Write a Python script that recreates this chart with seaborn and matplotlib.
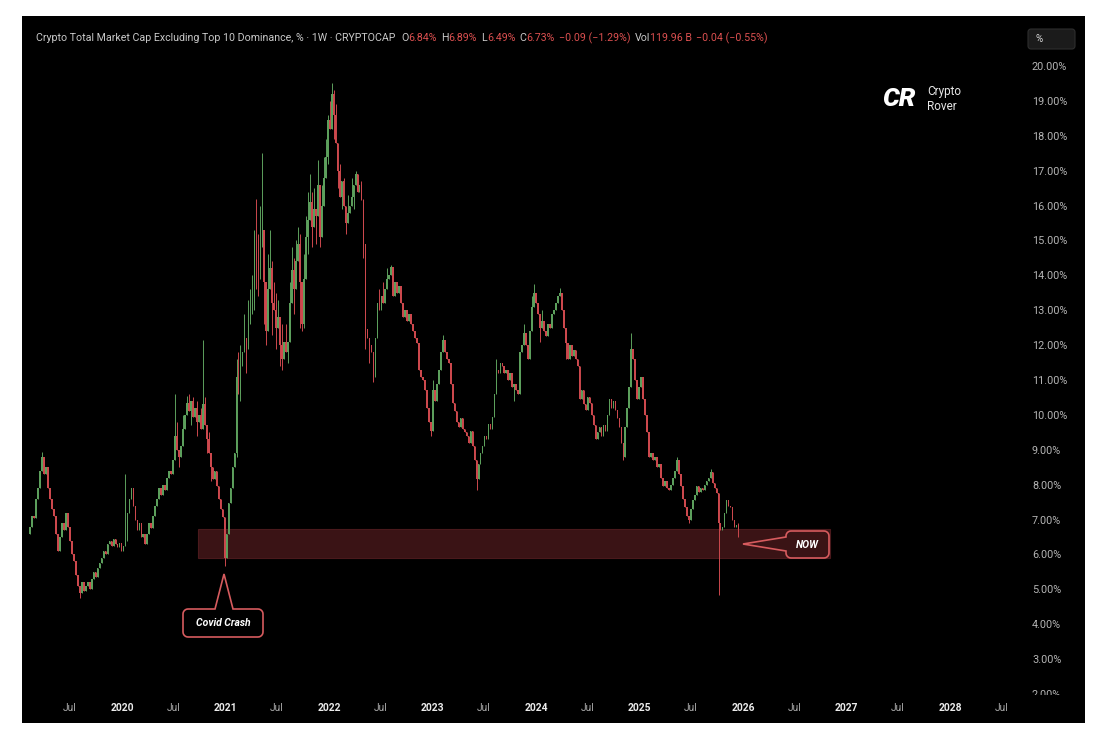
import numpy as np
import pandas as pd
import matplotlib
matplotlib.use("Agg")
import matplotlib.pyplot as plt
import matplotlib.dates as mdates
from matplotlib.patches import Rectangle, Polygon
import seaborn as sns

# weekly closes in %; first candle is the week of 2019-02-11
closes = [
    6.80, 7.10, 7.05, 7.60, 7.90, 8.40, 8.80, 8.30, 8.50, 7.90,
    7.60, 7.30, 7.10, 6.60, 6.10, 6.50, 6.90, 6.70, 7.20, 6.80,
    6.40, 6.00, 5.80, 5.40, 5.10, 4.90, 5.20, 4.95, 5.10, 5.20,
    5.00, 5.30, 5.50, 5.35, 5.60, 5.75, 5.90, 6.10, 6.00, 6.30,
    6.40, 6.25, 6.45, 6.30, 6.20, 6.33, 6.10, 6.25, 6.40, 7.20,
    7.60, 7.90, 7.40, 7.00, 6.70, 6.90, 6.50, 6.60, 6.30, 6.60,
    6.90, 6.75, 7.10, 7.40, 7.60, 7.90, 7.70, 8.00, 7.85, 8.20,
    8.40, 8.30, 8.70, 9.40, 9.00, 8.80, 9.10, 9.60, 10.00, 10.35,
    10.10, 10.40, 9.95, 10.20, 9.80, 10.00, 9.60, 10.30, 9.70, 9.30,
    8.90, 8.50, 8.15, 8.40, 7.95, 7.60, 7.30, 7.07, 5.90, 6.60,
    7.48, 7.90, 8.50, 8.90, 11.10, 10.60, 11.40, 11.80, 12.20, 11.90,
    12.60, 12.90, 13.20, 15.00, 14.40, 14.15, 14.80, 15.30, 13.80, 12.40,
    13.60, 14.20, 13.20, 13.00, 12.50, 12.80, 12.00, 11.60, 12.10, 11.80,
    12.10, 13.20, 14.15, 13.60, 14.40, 14.90, 13.80, 12.60, 13.90, 15.10,
    15.60, 16.10, 15.40, 15.90, 15.70, 16.60, 15.10, 16.00, 16.80, 17.40,
    18.45, 18.20, 19.20, 18.60, 17.80, 17.00, 16.25, 16.70, 16.00, 15.50,
    15.80, 16.00, 16.25, 16.60, 16.90, 16.40, 16.60, 16.15, 14.90, 12.45,
    12.20, 12.00, 11.80, 11.10, 12.20, 13.20, 13.00, 13.40, 13.20, 13.60,
    13.90, 14.00, 14.25, 13.40, 13.80, 13.50, 13.70, 13.20, 12.80, 13.00,
    12.70, 12.90, 12.60, 12.40, 12.20, 12.05, 11.30, 11.10, 11.00, 10.70,
    10.20, 9.80, 9.55, 10.70, 10.40, 10.90, 11.30, 11.80, 12.15, 11.80,
    11.60, 11.50, 10.90, 10.35, 10.10, 9.80, 9.65, 9.90, 9.60, 9.50,
    9.40, 9.20, 9.55, 9.10, 8.70, 8.15, 8.60, 8.90, 9.10, 9.40,
    9.30, 9.75, 9.60, 9.95, 10.60, 11.30, 11.20, 11.50, 11.40, 11.20,
    11.30, 11.00, 11.20, 10.80, 10.90, 10.70, 10.60, 11.80, 12.00, 12.35,
    12.00, 11.60, 12.40, 13.10, 13.50, 13.20, 12.90, 12.50, 12.70, 12.40,
    12.25, 12.60, 12.50, 12.90, 13.00, 13.20, 13.40, 13.50, 13.00, 12.50,
    12.05, 11.60, 12.00, 11.70, 11.85, 11.60, 11.40, 10.45, 10.70, 10.30,
    10.15, 10.50, 10.35, 10.00, 9.70, 9.30, 9.50, 9.65, 9.40, 9.70,
    9.55, 10.00, 10.45, 10.20, 10.40, 10.15, 9.90, 9.65, 9.20, 8.80,
    9.65, 10.20, 10.80, 11.90, 11.60, 11.00, 10.45, 10.80, 11.10, 10.45,
    10.00, 9.50, 8.80, 8.90, 8.70, 8.80, 8.50, 8.60, 8.20, 7.95,
    8.10, 7.90, 7.85, 8.00, 8.20, 8.40, 8.70, 8.30, 7.95, 7.60,
    7.35, 7.10, 7.00, 7.30, 7.55, 7.70, 7.95, 7.80, 7.90, 7.85,
    8.00, 8.10, 8.20, 8.35, 8.05, 7.90, 7.75, 6.90, 6.70, 6.80,
    7.20, 7.55, 7.40, 7.35, 7.00, 6.80, 6.84, 6.73,
]
first_open = 6.60

# wicks that reach past the candle body {week index: value}
wick_highs = {6: 8.95, 48: 8.30, 73: 10.60, 74: 9.80, 77: 10.00, 79: 10.55,
              80: 10.60, 82: 10.50, 84: 10.40, 86: 10.20, 87: 12.15, 88: 10.50,
              90: 9.50, 104: 11.60, 105: 11.80, 106: 12.00, 108: 12.90,
              110: 13.30, 111: 13.60, 112: 14.00, 113: 15.30, 114: 16.20,
              115: 15.20, 116: 16.00, 117: 17.50, 118: 15.00, 120: 14.60,
              121: 15.30, 122: 14.40, 123: 13.80, 124: 13.50, 125: 13.30,
              127: 12.60, 129: 12.60, 131: 13.80, 132: 14.80, 133: 14.50,
              134: 15.00, 135: 15.40, 136: 15.20, 138: 14.60, 139: 15.70,
              140: 16.40, 141: 16.90, 142: 16.40, 143: 16.50, 145: 17.30,
              146: 16.50, 147: 16.60, 148: 17.40, 149: 17.90, 150: 18.60,
              151: 19.00, 152: 19.50, 153: 19.30, 154: 18.90, 155: 17.80,
              156: 17.20, 158: 16.80, 160: 16.30, 162: 16.80, 164: 17.00,
              165: 16.90, 167: 16.70, 168: 16.20, 169: 14.80, 176: 13.60,
              178: 13.80, 180: 14.20, 182: 14.30, 203: 11.00, 208: 12.30,
              235: 11.60, 249: 12.60, 253: 13.40, 254: 13.75, 258: 13.00,
              267: 13.65, 303: 12.35, 326: 8.80, 343: 8.45, 357: 6.89}
wick_lows = {25: 4.75, 75: 8.50, 81: 9.70, 84: 9.40, 89: 8.90, 91: 8.10,
             98: 5.67, 104: 8.80, 106: 10.40, 109: 11.20, 113: 13.00,
             114: 13.60, 115: 13.40, 116: 13.90, 118: 12.60, 119: 12.00,
             120: 12.50, 122: 12.30, 124: 11.90, 126: 11.40, 127: 11.30,
             130: 11.50, 133: 12.90, 136: 12.50, 137: 12.40, 138: 12.50,
             140: 14.60, 142: 14.80, 144: 14.90, 146: 14.80, 150: 17.20,
             153: 17.90, 155: 16.50, 157: 15.90, 159: 15.20, 163: 15.90,
             168: 14.50, 169: 11.90, 171: 11.50, 173: 10.95, 202: 9.40,
             225: 7.85, 244: 10.40, 257: 12.10, 270: 11.60, 299: 8.70,
             332: 6.90, 347: 4.85, 357: 6.49}

zone_low, zone_high = 5.90, 6.73
zone_start, zone_end = "2020-09-25", "2026-11-03"

header = [
    ("Crypto Total Market Cap Excluding Top 10 Dominance, % \u00b7 1W \u00b7 CRYPTOCAP", "grey", 0),
    ("O", "grey", 4), ("6.84%", "red", 0),
    ("H", "grey", 3), ("6.89%", "red", 0),
    ("L", "grey", 3), ("6.49%", "red", 0),
    ("C", "grey", 3), ("6.73%", "red", 0),
    ("\u22120.09 (\u22121.29%)", "red", 3),
    ("Vol", "grey", 3), ("119.96 B", "red", 0),
    ("\u22120.04 (\u22120.55%)", "red", 3),
]

sns.set_theme(style="dark", rc={"axes.facecolor": "black", "figure.facecolor": "white"})
plt.rcParams["font.family"] = ["Roboto", "DejaVu Sans"]

W, H = 1097, 733
UP, DOWN = "#5c9f5c", "#cc484d"


def fx(x):
    return x / W


def fy(y):
    return 1 - y / H


def rounded(x0, y0, x1, y1, r, side=None, b0=0, b1=0, tip=None):
    pts = []

    def arc(cx, cy, a0, a1):
        for a in np.linspace(a0, a1, 7):
            pts.append((cx + r * np.cos(a), cy + r * np.sin(a)))

    arc(x0 + r, y0 + r, np.pi, 1.5 * np.pi)
    if side == "top":
        pts.extend([(b0, y0), tip, (b1, y0)])
    arc(x1 - r, y0 + r, 1.5 * np.pi, 2 * np.pi)
    arc(x1 - r, y1 - r, 0, 0.5 * np.pi)
    arc(x0 + r, y1 - r, 0.5 * np.pi, np.pi)
    if side == "left":
        pts.extend([(x0, b1), tip, (x0, b0)])
    return [(fx(x), fy(y)) for x, y in pts]


df = pd.DataFrame({"close": closes})
df["date"] = pd.date_range("2019-02-11", periods=len(closes), freq="7D")
df["open"] = [first_open] + closes[:-1]
df["high"] = [max(o, c, wick_highs.get(i, 0)) for i, (o, c) in enumerate(zip(df.open, df.close))]
df["low"] = [min(o, c, wick_lows.get(i, 99)) for i, (o, c) in enumerate(zip(df.open, df.close))]
colors = [UP if c >= o else DOWN for o, c in zip(df.open, df.close)]

fig = plt.figure(figsize=(W / 100, H / 100), dpi=100)
fig.add_artist(Rectangle((fx(22), fy(723)), (1085 - 22) / W, (723 - 16) / H,
                         transform=fig.transFigure, facecolor="black",
                         edgecolor="none", zorder=-5))

ax = fig.add_axes([fx(22), fy(694), 1000 / W, 644 / H])
ax.set_facecolor("none")

zs, ze = mdates.date2num(pd.Timestamp(zone_start)), mdates.date2num(pd.Timestamp(zone_end))
ax.add_patch(Rectangle((zs, zone_low), ze - zs, zone_high - zone_low,
                       facecolor="#3a1315", edgecolor="#4a191c", lw=0.8, zorder=1))

ax.vlines(df["date"], df["low"], df["high"], colors=colors, lw=0.7, zorder=2)
ax.bar(df["date"], df["close"] - df["open"], bottom=df["open"], width=5.6,
       color=colors, linewidth=0, zorder=3)

ax.set_xlim(pd.Timestamp("2019-01-13"), pd.Timestamp("2028-09-11"))
ax.set_ylim(2.0, 20.46)

jul_ticks = [pd.Timestamp(f"{y}-07-01") for y in range(2019, 2029)]
year_ticks = [pd.Timestamp(f"{y}-01-01") for y in range(2020, 2029)]
xt = sorted(jul_ticks + year_ticks)
ax.set_xticks(xt)
ax.set_xticklabels(["Jul" if t.month == 7 else str(t.year) for t in xt])
for t, lbl in zip(xt, ax.get_xticklabels()):
    if t.month == 7:
        lbl.set_color("#a8a8a8")
    else:
        lbl.set_color("#ececec")
        lbl.set_fontweight("bold")
    lbl.set_fontsize(7.4)

ax.yaxis.tick_right()
yt = list(range(2, 21))
ax.set_yticks(yt)
ax.set_yticklabels([f"{v:.2f}%" for v in yt], color="#b4b4b4", fontsize=7.8)
ax.tick_params(axis="y", length=0, pad=7.2)
ax.tick_params(axis="x", length=0, pad=6.6)
ax.grid(False)
sns.despine(ax=ax, left=True, bottom=True, right=True, top=True)

# hide the lower half of the clipped 2.00% label
fig.add_artist(Rectangle((fx(1022), fy(723)), (1085 - 1022) / W, (723 - 694.5) / H,
                         transform=fig.transFigure, facecolor="black",
                         edgecolor="none", zorder=5))

# header line
prev = fig.text(fx(36), fy(38), header[0][0], color="#c9c9c9", fontsize=7.7,
                va="center", ha="left")
for txt, kind, gap in header[1:]:
    col = "#c9c9c9" if kind == "grey" else "#dc5050"
    prev = ax.annotate(txt, xy=(1, 0.5), xycoords=prev, xytext=(gap, 0),
                       textcoords="offset points", color=col, fontsize=7.7,
                       va="center", ha="left")

# "%" button
fig.add_artist(Polygon(rounded(1028, 29, 1075, 49, 3), closed=True,
                       transform=fig.transFigure, facecolor="#1b1b1b",
                       edgecolor="#2e2e2e", lw=0.8))
fig.text(fx(1036), fy(39), "%", color="#dadada", fontsize=7, va="center", ha="left")

# logo
fig.text(fx(899), fy(99), "CR", color="white", fontsize=19, fontweight="heavy",
         fontstyle="italic", va="center", ha="center")
fig.text(fx(927), fy(92), "Crypto", color="#e6e6e6", fontsize=8.5, va="center", ha="left")
fig.text(fx(927), fy(106), "Rover", color="#e6e6e6", fontsize=8.5, va="center", ha="left")

# callouts
edge = "#d65b5e"
fig.add_artist(Polygon(rounded(183, 609, 263, 637, 5, "top", 215, 233, (224, 574)),
                       closed=True, transform=fig.transFigure, facecolor="none",
                       edgecolor=edge, lw=1.2, zorder=4))
fig.text(fx(223), fy(623), "Covid Crash", color="white", fontsize=7.5,
         fontweight="bold", fontstyle="italic", va="center", ha="center")

fig.add_artist(Polygon(rounded(786, 531, 829, 558, 5, "left", 537, 551, (743, 544)),
                       closed=True, transform=fig.transFigure, facecolor="none",
                       edgecolor=edge, lw=1.2, zorder=4))
fig.text(fx(807), fy(545), "NOW", color="white", fontsize=7.5,
         fontweight="bold", fontstyle="italic", va="center", ha="center")

fig.savefig("out.png", dpi=100)
